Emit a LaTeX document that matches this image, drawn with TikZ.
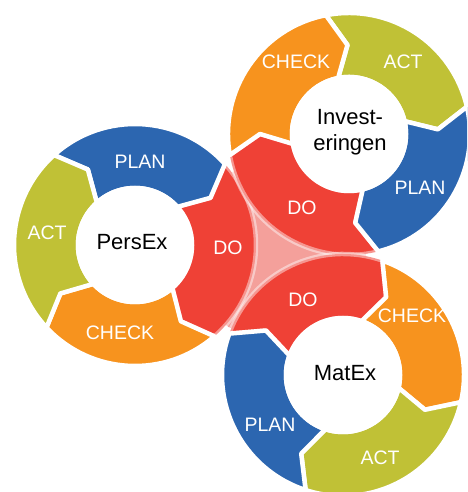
\documentclass[tikz,border=0pt]{standalone}
\usepackage{fontspec}
\setmainfont{Liberation Sans}
\usetikzlibrary{calc}
\definecolor{cblue}{RGB}{44,102,176}
\definecolor{cred}{RGB}{239,65,54}
\definecolor{corange}{RGB}{247,147,30}
\definecolor{cgreen}{RGB}{192,193,54}
\definecolor{cpink}{RGB}{244,160,155}
\newcommand\pdcaseg[5][]{%
  \path[fill=#5, draw=white, line width=4.5pt, line join=round, #1]
    ($(#2)+(#3:121)$) arc[start angle=#3, end angle=#4, radius=121pt]
    -- ($(#2)+({#4-10}:89)$) -- ($(#2)+(#4:57)$)
    arc[start angle=#4, end angle=#3, radius=57pt]
    -- ($(#2)+({#3-10}:89)$) -- cycle;}
\begin{document}
\begin{tikzpicture}[x=1pt,y=1pt,
  seglabel/.style={text=white, font=\fontsize{19.5}{23}\selectfont, inner sep=0pt},
  centlabel/.style={text=black, font=\fontsize{22}{26}\selectfont, inner sep=0pt, align=center},
  dostroke/.style={draw opacity=0.45}]
\useasboundingbox (0,0) rectangle (467,492);
\clip (0,0) rectangle (467,492);
\coordinate (C1) at (135,247);
\coordinate (C2) at (349,358);
\coordinate (C3) at (343,117);
\coordinate (T12) at (232.8,320.3);
\coordinate (T23) at (366,237);
\coordinate (T31) at (228.4,165);
% pink background between the DO segments
\fill[cpink] (C1) -- (T12) -- (C2) -- (T23) -- (C3) -- (T31) -- cycle;
% PersEx ring
\pdcaseg[dostroke]{C1}{42}{-49}{cred}
\pdcaseg{C1}{132}{42}{cblue}
\pdcaseg{C1}{-49}{-137}{corange}
\pdcaseg{C1}{-137}{-228}{cgreen}
\fill[white] (C1) circle[radius=59.25pt];
% Investeringen ring
\pdcaseg[dostroke]{C2}{-76}{-170}{cred}
\pdcaseg{C2}{101}{13}{cgreen}
\pdcaseg{C2}{13}{-76}{cblue}
\pdcaseg{C2}{-170}{-259}{corange}
\fill[white] (C2) circle[radius=59.25pt];
% MatEx ring
\pdcaseg[dostroke]{C3}{160}{71}{cred}
\pdcaseg{C3}{71}{-13}{corange}
\pdcaseg{C3}{-13}{-108}{cgreen}
\pdcaseg{C3}{-108}{-200}{cblue}
\fill[white] (C3) circle[radius=59.25pt];
% labels PersEx
\node[seglabel] (p1plan) at (140,330) {PLAN};
\node[seglabel] (p1do) at (228,244) {DO};
\node[seglabel] (p1check) at (120,159) {CHECK};
\node[seglabel] (p1act) at (47,259) {ACT};
\node[centlabel] (persex) at (132,250) {PersEx};
% labels Investeringen
\node[seglabel] (p2check) at (296,430) {CHECK};
\node[seglabel] (p2act) at (403,430) {ACT};
\node[seglabel] (p2plan) at (420,304) {PLAN};
\node[seglabel] (p2do) at (302,284) {DO};
\node[centlabel] (invest) at (350,360) {Invest-\\eringen};
% labels MatEx
\node[seglabel] (p3do) at (303,192) {DO};
\node[seglabel] (p3check) at (412,176) {CHECK};
\node[seglabel] (p3act) at (380,34) {ACT};
\node[seglabel] (p3plan) at (270,67) {PLAN};
\node[centlabel] (matex) at (345,119) {MatEx};
\end{tikzpicture}
\end{document}
